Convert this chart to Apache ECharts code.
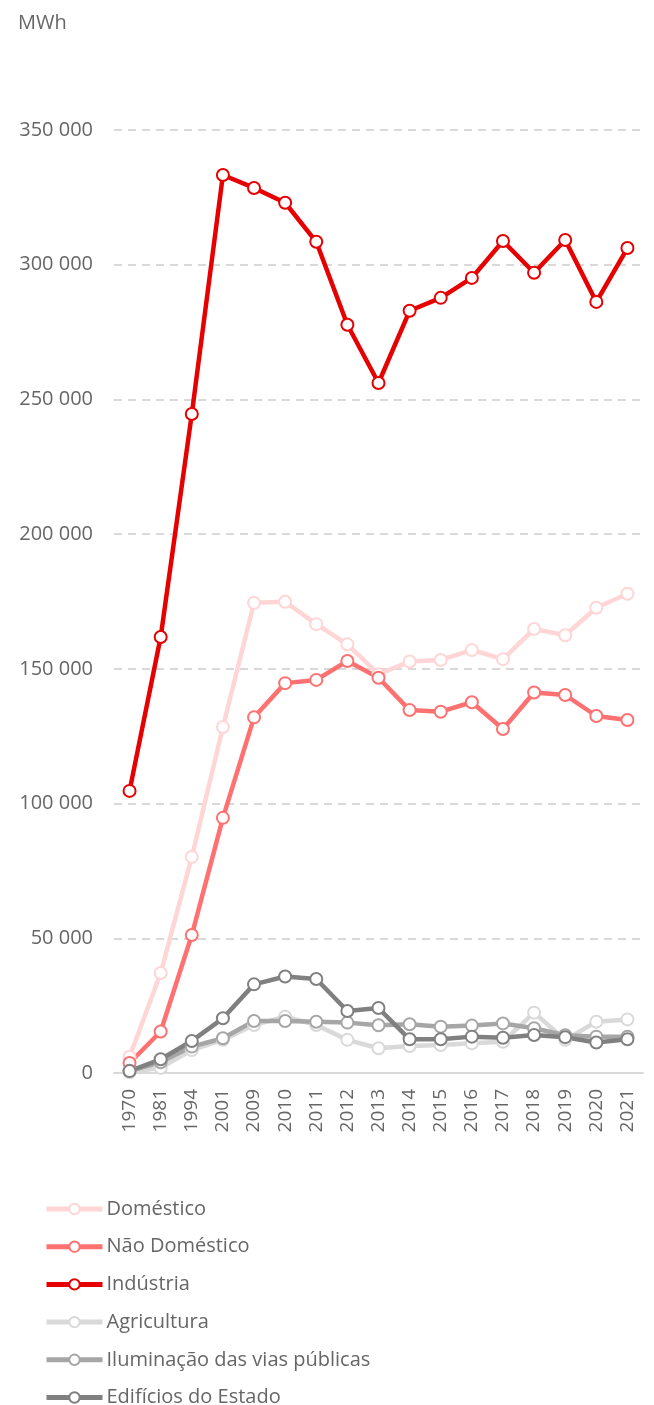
<!DOCTYPE html>
<html>
<head>
<meta charset="utf-8">
<script src="https://cdn.jsdelivr.net/npm/echarts@6/dist/echarts.min.js"></script>
<style>
  html, body { margin: 0; padding: 0; background: #fff; }
  #chart { width: 654px; height: 1405px; }
</style>
</head>
<body>
<div id="chart"></div>
<script>
// anos
const years = ['1970', '1981', '1994', '2001', '2009', '2010', '2011', '2012', '2013',
  '2014', '2015', '2016', '2017', '2018', '2019', '2020', '2021'];

// consumo por sector (MWh)
const domestico = [6000, 37100, 80200, 128400, 174500, 174900, 166600, 159100, 148000,
  152700, 153300, 157000, 153600, 164800, 162500, 172700, 177900];
const naoDomestico = [3700, 15400, 51200, 94700, 132000, 144700, 145900, 152900, 146700,
  134700, 134100, 137600, 127700, 141200, 140300, 132500, 131000];
const industria = [104700, 161800, 244600, 333300, 328500, 323000, 308500, 277700, 256100,
  282900, 287700, 295100, 308800, 297000, 309200, 286200, 306200];
const agricultura = [300, 1900, 8500, 12300, 17800, 20900, 17800, 12300, 9200,
  10000, 10400, 11000, 11600, 22400, 12300, 19000, 19900];
const iluminacao = [800, 4000, 9800, 12900, 19300, 19300, 19000, 18700, 17700,
  18100, 17200, 17600, 18400, 16600, 14000, 13500, 13500];
const edificios = [700, 5100, 11900, 20300, 32900, 35800, 34900, 23000, 24100,
  12500, 12500, 13500, 13100, 14100, 13300, 11300, 12500];

const yTicks = [0, 50000, 100000, 150000, 200000, 250000, 300000, 350000];

const fontFamily = '"Open Sans", sans-serif';
const textColor = '#666';

function mkSeries(name, data, color) {
  return {
    name: name,
    type: 'line',
    data: data,
    symbol: 'circle',
    symbolSize: 12,
    lineStyle: { color: color, width: 4.5 },
    itemStyle: { color: '#fff', borderColor: color, borderWidth: 2 },
    emphasis: { disabled: true }
  };
}

const myChart = echarts.init(document.getElementById('chart'));
myChart.setOption({
  animation: false,
  textStyle: { fontFamily: fontFamily },
  title: {
    text: 'MWh',
    left: 13,
    top: 8,
    textStyle: { fontFamily: fontFamily, fontSize: 20, fontWeight: 'normal', color: textColor }
  },
  grid: { left: 114, right: 11, top: 130, bottom: 332, containLabel: false },
  legend: {
    orient: 'vertical',
    left: 39,
    top: 1194,
    height: 230,
    itemWidth: 56,
    itemHeight: 13,
    itemGap: 17.7,
    lineStyle: { width: 5 },
    textStyle: { fontFamily: fontFamily, fontSize: 20, color: textColor, padding: [0, 0, 0, -1] },
    data: ['Doméstico', 'Não Doméstico', 'Indústria', 'Agricultura',
      'Iluminação das vias públicas', 'Edifícios do Estado']
  },
  xAxis: {
    type: 'category',
    data: years,
    boundaryGap: true,
    axisLine: { lineStyle: { color: '#d9d9d9', width: 2 } },
    axisTick: { show: false },
    axisLabel: { rotate: 90, margin: 16, interval: 0, fontSize: 19, color: textColor, fontFamily: fontFamily }
  },
  yAxis: {
    type: 'value',
    min: yTicks[0],
    max: yTicks[yTicks.length - 1],
    interval: 50000,
    axisLine: { show: false },
    axisTick: { show: false },
    axisLabel: {
      margin: 21,
      fontSize: 20,
      color: textColor,
      fontFamily: fontFamily,
      formatter: function (v) { return v.toLocaleString('en-US').replace(/,/g, ' '); }
    },
    splitLine: { lineStyle: { color: '#d9d9d9', width: 2, type: [8, 6] } }
  },
  series: [
    mkSeries('Doméstico', domestico, '#ffd5d5'),
    mkSeries('Não Doméstico', naoDomestico, '#ff7070'),
    mkSeries('Indústria', industria, '#e60000'),
    mkSeries('Agricultura', agricultura, '#d9d9d9'),
    mkSeries('Iluminação das vias públicas', iluminacao, '#a6a6a6'),
    mkSeries('Edifícios do Estado', edificios, '#808080')
  ]
});
window.addEventListener('resize', myChart.resize);
</script>
</body>
</html>
